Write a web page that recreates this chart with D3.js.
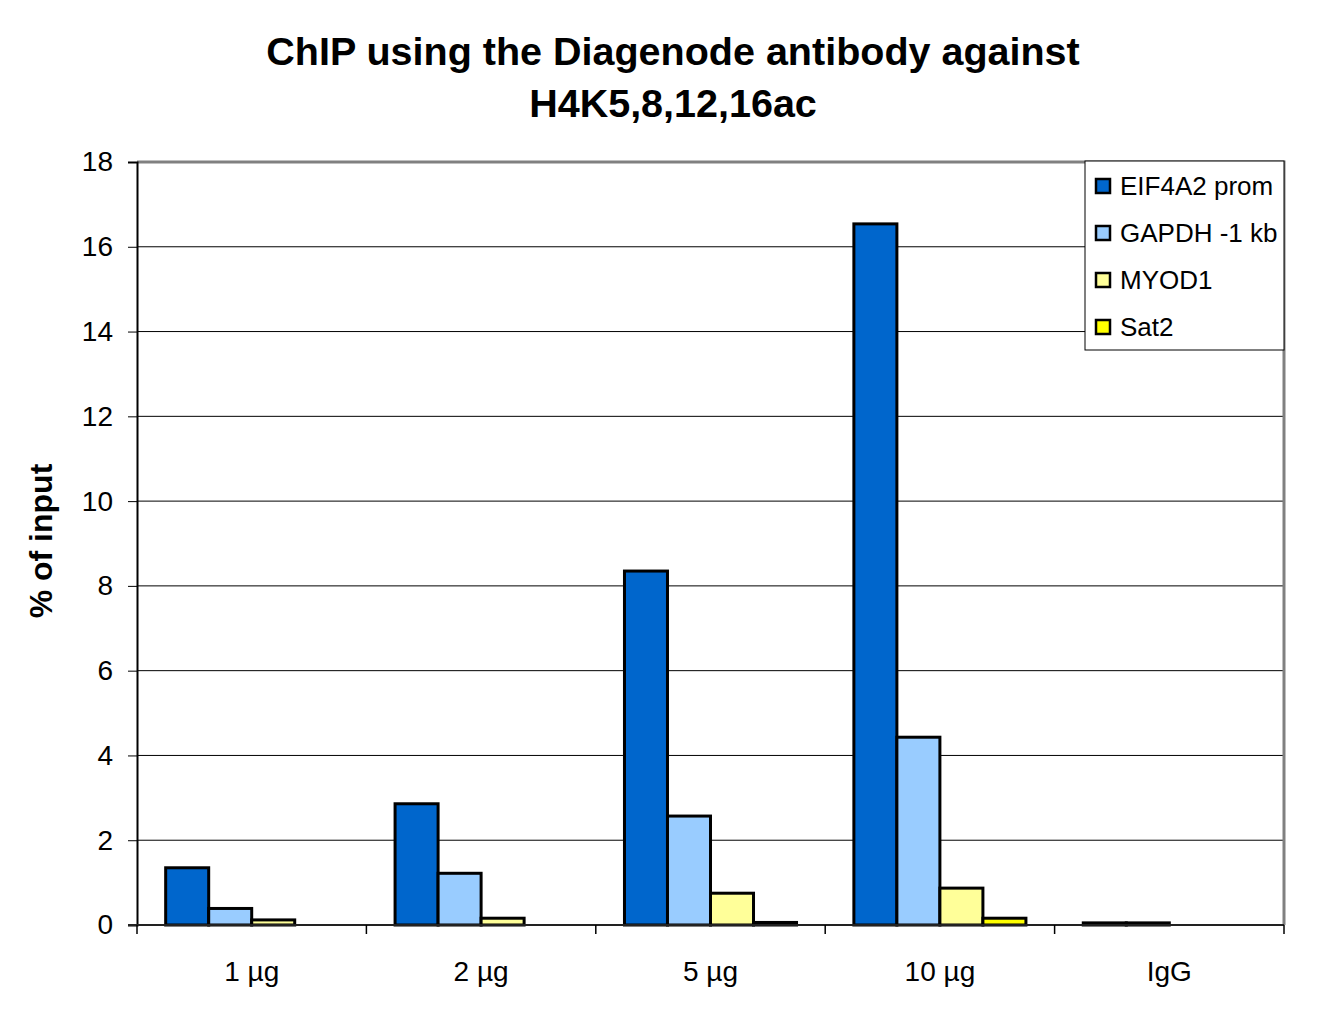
<!DOCTYPE html>
<html>
<head>
<meta charset="utf-8">
<script src="https://cdn.jsdelivr.net/npm/d3@7"></script>
<style>
  body { margin: 0; background: #fff; }
  text { font-family: Arial, "Liberation Sans", sans-serif; }
</style>
</head>
<body>
<div id="chart"></div>
<script>
var categories = ["1 µg", "2 µg", "5 µg", "10 µg", "IgG"];
var seriesNames = ["EIF4A2 prom", "GAPDH -1 kb", "MYOD1", "Sat2"];
var seriesColors = ["#0066CC", "#99CCFF", "#FFFF99", "#FFFF00"];
var eif4a2 = [1.35, 2.86, 8.35, 16.54, 0.05];
var gapdh = [0.39, 1.22, 2.57, 4.43, 0.05];
var myod1 = [0.12, 0.16, 0.75, 0.87, 0];
var sat2 = [0, 0, 0.06, 0.16, 0];
var yTicks = [0, 2, 4, 6, 8, 10, 12, 14, 16, 18];

var svgWidth = 1343, svgHeight = 1010;
var margin = { top: 162, right: 59, bottom: 85, left: 137 };
var width = svgWidth - margin.left - margin.right;
var height = svgHeight - margin.top - margin.bottom;

var svg = d3.select("#chart").append("svg")
  .attr("width", svgWidth)
  .attr("height", svgHeight);

// title
svg.append("text")
  .attr("x", 673).attr("y", 65)
  .attr("text-anchor", "middle")
  .style("font-size", "39.5px").style("font-weight", "bold")
  .text("ChIP using the Diagenode antibody against");
svg.append("text")
  .attr("x", 673).attr("y", 117)
  .attr("text-anchor", "middle")
  .style("font-size", "39.5px").style("font-weight", "bold")
  .text("H4K5,8,12,16ac");

var chartGroup = svg.append("g")
  .attr("transform", `translate(${margin.left}, ${margin.top})`);

var x0 = d3.scaleBand().domain(categories).range([0, width]).paddingInner(0.25).paddingOuter(0.125);
var x1 = d3.scaleBand().domain(seriesNames).range([0, x0.bandwidth()]);
var y = d3.scaleLinear().domain([0, 18]).range([height, 0]);

var groupScale = d3.scaleBand().domain(categories).range([0, width]);

// gridlines
chartGroup.append("g")
  .selectAll("line")
  .data(yTicks.slice(1, -1))
  .enter().append("line")
  .attr("x1", 0).attr("x2", width)
  .attr("y1", d => y(d)).attr("y2", d => y(d))
  .attr("stroke", "#000").attr("stroke-width", 1);

// plot border (top and right)
chartGroup.append("path")
  .attr("d", `M0,0H${width}V${height}`)
  .attr("fill", "none")
  .attr("stroke", "#808080")
  .attr("stroke-width", 3);

// bars
var rows = categories.map((c, i) => ({
  cat: c,
  vals: [eif4a2[i], gapdh[i], myod1[i], sat2[i]]
}));

var groups = chartGroup.selectAll("g.grp")
  .data(rows)
  .enter().append("g")
  .attr("class", "grp")
  .attr("transform", d => `translate(${x0(d.cat)}, 0)`);

groups.selectAll("rect")
  .data(d => d.vals.map((v, j) => ({ name: seriesNames[j], v: v, color: seriesColors[j] })).filter(e => e.v > 0))
  .enter().append("rect")
  .attr("x", d => x1(d.name))
  .attr("y", d => y(d.v))
  .attr("width", x1.bandwidth())
  .attr("height", d => height - y(d.v))
  .attr("fill", d => d.color)
  .attr("stroke", "#000")
  .attr("stroke-width", 3);

// y axis
var leftAxis = d3.axisLeft(y).tickValues(yTicks).tickSize(9).tickPadding(15);
var yAxis = chartGroup.append("g").call(leftAxis);
yAxis.select(".domain").attr("stroke", "#000").attr("stroke-width", 2);
yAxis.selectAll("text").style("font-size", "28px").attr("fill", "#000");

// x axis
var xAxisG = chartGroup.append("g").attr("transform", `translate(0, ${height})`);
xAxisG.append("line")
  .attr("x1", -9).attr("x2", width)
  .attr("stroke", "#222").attr("stroke-width", 2);
xAxisG.selectAll("line.tick")
  .data(d3.range(categories.length + 1))
  .enter().append("line")
  .attr("class", "tick")
  .attr("x1", d => d * groupScale.step()).attr("x2", d => d * groupScale.step())
  .attr("y1", 0).attr("y2", 9)
  .attr("stroke", "#000").attr("stroke-width", 1.5);
xAxisG.selectAll("text")
  .data(categories)
  .enter().append("text")
  .attr("x", d => groupScale(d) + groupScale.bandwidth() / 2)
  .attr("y", 56)
  .attr("text-anchor", "middle")
  .style("font-size", "28px")
  .text(d => d);

// y axis label
svg.append("text")
  .attr("transform", "rotate(-90)")
  .attr("x", -541).attr("y", 52)
  .attr("text-anchor", "middle")
  .style("font-size", "32px").style("font-weight", "bold")
  .text("% of input");

// legend
var legend = svg.append("g").attr("transform", "translate(1085, 161)");
legend.append("rect")
  .attr("width", 199).attr("height", 189)
  .attr("fill", "#fff").attr("stroke", "#000").attr("stroke-width", 1);
var items = legend.selectAll("g.item")
  .data(seriesNames)
  .enter().append("g")
  .attr("class", "item")
  .attr("transform", (d, i) => `translate(0, ${25 + i * 47})`);
items.append("rect")
  .attr("x", 11).attr("y", -7)
  .attr("width", 14).attr("height", 14)
  .attr("fill", (d, i) => seriesColors[i])
  .attr("stroke", "#000").attr("stroke-width", 2.5);
items.append("text")
  .attr("x", 35).attr("y", 9)
  .style("font-size", "26px")
  .text(d => d);
</script>
</body>
</html>
